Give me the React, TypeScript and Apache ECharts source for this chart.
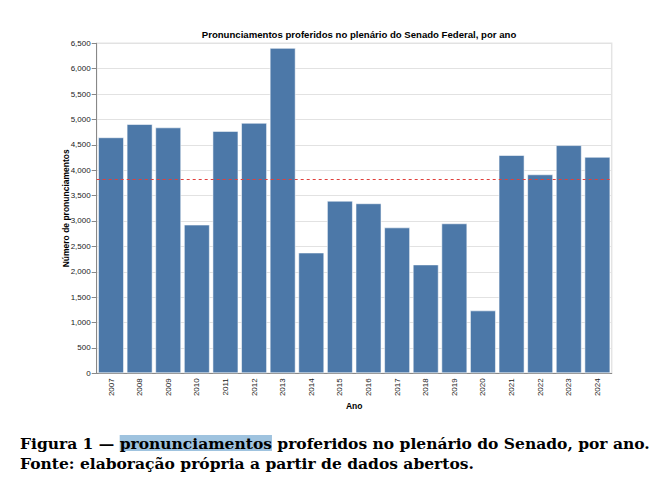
import React, { useEffect, useRef } from "react";
import * as echarts from "echarts";

const years = ["2007","2008","2009","2010","2011","2012","2013","2014","2015","2016","2017","2018","2019","2020","2021","2022","2023","2024"];
const counts = [4650,4910,4845,2930,4775,4935,6410,2380,3400,3350,2875,2145,2955,1240,4300,3920,4495,4265];
const titleText = "Pronunciamentos proferidos no plenário do Senado Federal, por ano";
const yAxisName = "Número de pronunciamentos";
const xAxisName = "Ano";
const captionPre = "Figura 1 — ";
const captionHighlight = "pronunciamentos";
const captionPost = " proferidos no plenário do Senado, por ano.";
const captionLine2 = "Fonte: elaboração própria a partir de dados abertos.";

export default function App() {
  const ref = useRef<HTMLDivElement>(null);
  useEffect(() => {
    const chart = echarts.init(ref.current!, undefined, { renderer: "svg" });
    const sans = "Liberation Sans, Arial, sans-serif";
    const serif = "DejaVu Serif, serif";
    chart.setOption({
      animation: false,
      title: {
        text: titleText,
        left: 354,
        textAlign: "center",
        top: 24.5,
        textStyle: { fontFamily: sans, fontSize: 9.6, fontWeight: "bold", color: "#000" },
      },
      grid: {
        left: 96.7,
        right: 55.3,
        top: 43.3,
        bottom: 112.7,
        show: true,
        borderColor: "#e4e4e4",
        borderWidth: 1.5,
        backgroundColor: "transparent",
      },
      xAxis: {
        type: "category",
        data: years,
        name: xAxisName,
        nameLocation: "middle",
        nameGap: 28,
        nameMoveOverlap: false,
        nameTextStyle: { fontFamily: sans, fontSize: 8.5, fontWeight: "bold", color: "#000" },
        axisLine: { lineStyle: { color: "#888", width: 1 } },
        axisTick: { alignWithLabel: true, length: 4, lineStyle: { color: "#888" } },
        axisLabel: { rotate: 90, fontFamily: sans, fontSize: 8, color: "#222", margin: 5 },
      },
      yAxis: {
        type: "value",
        min: 0,
        max: 6500,
        interval: 500,
        name: yAxisName,
        nameLocation: "middle",
        nameGap: 26,
        nameMoveOverlap: false,
        nameTextStyle: { fontFamily: sans, fontSize: 8.5, fontWeight: "bold", color: "#000" },
        axisLine: { show: true, lineStyle: { color: "#888", width: 1 } },
        axisTick: { show: true, length: 5, lineStyle: { color: "#888" } },
        axisLabel: {
          fontFamily: sans,
          fontSize: 8,
          color: "#222",
          margin: 6,
          formatter: (v: number) => v.toLocaleString("en-US"),
        },
        splitLine: { lineStyle: { color: "#e2e2e2", width: 1 } },
      },
      series: [
        {
          type: "bar",
          data: counts,
          barCategoryGap: "9%",
          itemStyle: { color: "#4c78a8", borderColor: "rgba(255,255,255,0.55)", borderWidth: 1 },
          markLine: {
            silent: true,
            symbol: "none",
            label: { show: false },
            lineStyle: { color: "#e0403c", type: [3, 3], width: 1 },
            data: [{ type: "average" }],
          },
        },
      ],
      graphic: [
        {
          type: "text",
          left: 20,
          top: 435,
          style: {
            text: `{a|${captionPre}}{h|${captionHighlight}}{a|${captionPost}}`,
            rich: {
              a: { fontFamily: serif, fontSize: 15.5, fontWeight: "bold", fill: "#000", lineHeight: 20 },
              h: { fontFamily: serif, fontSize: 15.5, fontWeight: "bold", fill: "#000", lineHeight: 20, backgroundColor: "#9fc3df" },
            },
          },
        },
        {
          type: "text",
          left: 20,
          top: 455,
          style: {
            text: captionLine2,
            fontFamily: serif,
            fontSize: 15.5,
            fontWeight: "bold",
            fill: "#000",
          },
        },
      ],
    });
    return () => chart.dispose();
  }, []);
  return (
    <div style={{ position: "fixed", left: 0, top: 0, width: 667, height: 486, background: "#fff" }}>
      <div ref={ref} style={{ width: 667, height: 486 }} />
    </div>
  );
}
